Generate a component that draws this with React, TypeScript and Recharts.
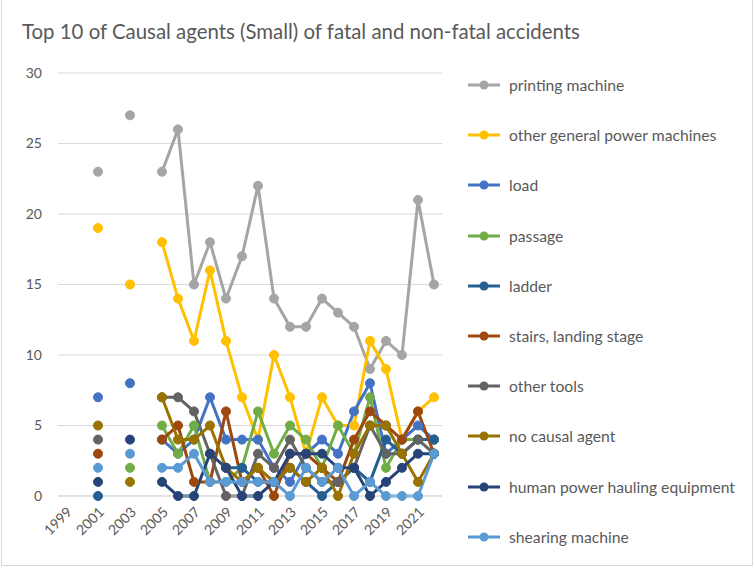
import { LineChart, Line, XAxis, YAxis, CartesianGrid } from 'recharts'

const years = [
  '1999', '2000', '2001', '2002', '2003', '2004', '2005', '2006', '2007', '2008', '2009', '2010',
  '2011', '2012', '2013', '2014', '2015', '2016', '2017', '2018', '2019', '2020', '2021', '2022',
]

const printingMachine = [null, null, 23, null, 27, null, 23, 26, 15, 18, 14, 17, 22, 14, 12, 12, 14, 13, 12, 9, 11, 10, 21, 15]
const otherPowerMachines = [null, null, 19, null, 15, null, 18, 14, 11, 16, 11, 7, 4, 10, 7, 3, 7, 5, 5, 11, 9, 4, 6, 7]
const load = [null, null, 7, null, 8, null, 4, 3, 4, 7, 4, 4, 4, 2, 1, 3, 4, 3, 6, 8, 3, 4, 5, 4]
const passage = [null, null, null, null, 2, null, 5, 3, 5, 1, 1, 2, 6, 3, 5, 4, 2, 5, 3, 7, 2, 4, 4, 4]
const ladder = [null, null, 0, null, null, null, null, null, null, null, 2, 2, 1, 1, 2, 1, 0, 1, 2, 1, 4, 3, 4, 4]
const stairs = [null, null, 3, null, null, null, 4, 5, 1, 1, 6, 1, 2, 0, 3, 3, 2, 1, 4, 6, 5, 4, 6, 3]
const otherTools = [null, null, 4, null, null, null, 7, 7, 6, 3, 0, 0, 3, 2, 4, 2, 1, 1, 2, 5, 3, 3, 4, 3]
const noCausalAgent = [null, null, 5, null, 1, null, 7, 4, 4, 5, 2, 1, 2, 1, 2, 1, 2, 0, 3, 5, 5, 3, 1, 3]
const humanPowerHauling = [null, null, 1, null, 4, null, 1, 0, 0, 3, 2, 0, 0, 1, 3, 3, 3, 2, 2, 0, 1, 2, 3, 3]
const shearingMachine = [null, null, 2, null, 3, null, 2, 2, 3, 1, 1, 1, 1, 1, 0, 2, 1, 2, 0, 1, 0, 0, 0, 3]

const yTicks = [0, 5, 10, 15, 20, 25, 30]

const series = [
  { key: 'printing', name: 'printing machine', values: printingMachine, color: '#A5A5A5' },
  { key: 'power', name: 'other general power machines', values: otherPowerMachines, color: '#FFC000' },
  { key: 'load', name: 'load', values: load, color: '#4472C4' },
  { key: 'passage', name: 'passage', values: passage, color: '#70AD47' },
  { key: 'ladder', name: 'ladder', values: ladder, color: '#255E91' },
  { key: 'stairs', name: 'stairs, landing stage', values: stairs, color: '#9E480E' },
  { key: 'tools', name: 'other tools', values: otherTools, color: '#636363' },
  { key: 'none', name: 'no causal agent', values: noCausalAgent, color: '#997300' },
  { key: 'hauling', name: 'human power hauling equipment', values: humanPowerHauling, color: '#264478' },
  { key: 'shearing', name: 'shearing machine', values: shearingMachine, color: '#5B9BD5' },
]

const data = years.map((year, i) => {
  const row: Record<string, string | number | null> = { year }
  series.forEach((s) => {
    row[s.key] = s.values[i]
  })
  return row
})

const textColor = '#595959'
const font = 'Lato, "Open Sans", sans-serif'

export default function App() {
  return (
    <div style={{ position: 'relative', width: 755, height: 569, background: '#fff', fontFamily: font }}>
      <style>{'body{margin:0}'}</style>
      <div
        style={{
          position: 'absolute',
          left: 1,
          top: -2,
          width: 750,
          height: 566,
          border: '1px solid #D9D9D9',
        }}
      />
      <div
        style={{
          position: 'absolute',
          left: 22,
          top: 19,
          fontSize: 20.4,
          color: textColor,
          whiteSpace: 'nowrap',
        }}
      >
        Top 10 of Causal agents (Small) of fatal and non-fatal accidents
      </div>
      <LineChart
        width={755}
        height={569}
        data={data}
        margin={{ top: 73, right: 313, bottom: 0, left: 0 }}
        style={{ position: 'absolute', left: 0, top: 0 }}
      >
        <CartesianGrid stroke="#D9D9D9" vertical={false} />
        <XAxis
          dataKey="year"
          interval={1}
          padding={{ left: 8, right: 8 }}
          axisLine={{ stroke: '#D9D9D9' }}
          tickLine={false}
          height={73}
          angle={-45}
          textAnchor="end"
          tickMargin={4}
          tick={{ fontSize: 14, fill: textColor, fontFamily: font }}
        />
        <YAxis
          domain={[0, 30]}
          ticks={yTicks}
          width={58}
          axisLine={false}
          tickLine={false}
          tickMargin={10}
          tick={{ fontSize: 14, fill: textColor, fontFamily: font }}
        />
        {series.map((s) => (
          <Line
            key={s.key}
            dataKey={s.key}
            name={s.name}
            stroke={s.color}
            strokeWidth={3}
            dot={{ r: 4.5, fill: s.color, stroke: s.color, strokeWidth: 1 }}
            isAnimationActive={false}
          />
        ))}
      </LineChart>
      <div style={{ position: 'absolute', left: 468, top: 60 }}>
        {series.map((s) => (
          <div key={s.key} style={{ display: 'flex', alignItems: 'center', height: 50.2 }}>
            <svg width={32} height={12} style={{ marginRight: 9 }}>
              <line x1={0} y1={6} x2={32} y2={6} stroke={s.color} strokeWidth={3} />
              <circle cx={16} cy={6} r={4.5} fill={s.color} />
            </svg>
            <span style={{ fontSize: 15.7, color: textColor, whiteSpace: 'nowrap' }}>{s.name}</span>
          </div>
        ))}
      </div>
    </div>
  )
}
